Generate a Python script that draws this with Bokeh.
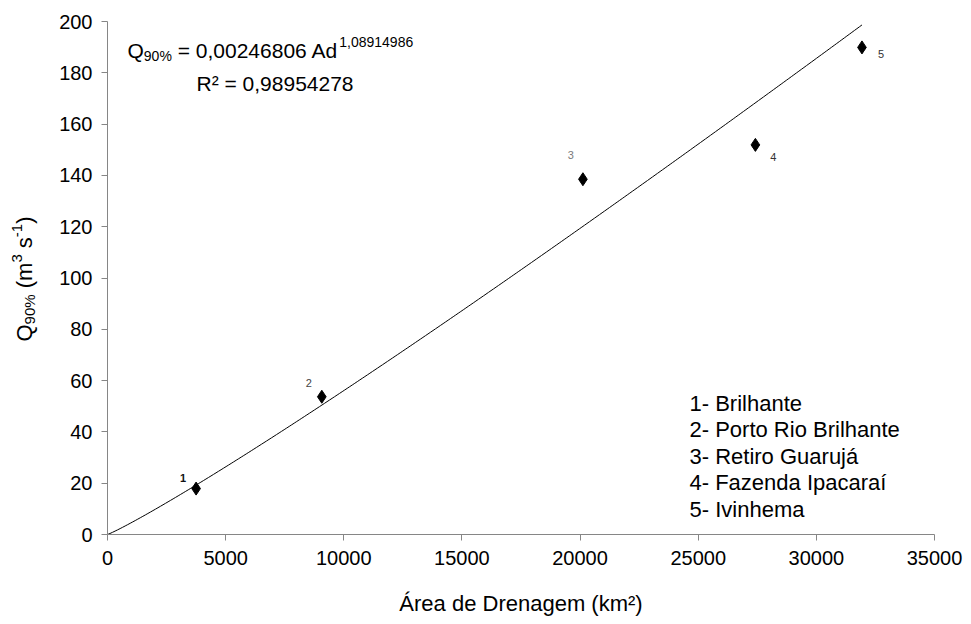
import numpy as np
from math import pi
from bokeh.plotting import figure
from bokeh.layouts import row
from bokeh.models import Label, Range1d, FixedTicker
from bokeh.embed import file_html
from bokeh.resources import INLINE
from bokeh.core.properties import value

# ---------------- data ----------------
station_ids = ["1", "2", "3", "4", "5"]
station_names = ["Brilhante", "Porto Rio Brilhante", "Retiro Guarujá",
                 "Fazenda Ipacaraí", "Ivinhema"]
area_km2 = [3750, 9070, 20120, 27420, 31930]
q90 = [17.9, 53.7, 138.5, 151.9, 189.9]

fit_a = 0.00246806
fit_b = 1.08914986
fit_r2 = 0.98954278

x_ticks = [0, 5000, 10000, 15000, 20000, 25000, 30000, 35000]
y_ticks = [0, 20, 40, 60, 80, 100, 120, 140, 160, 180, 200]

# ---------------- layout ----------------
W, H = 971, 624
YW = 50                      # width of the y-title strip
FL, FR, FT, FB_ = 107, 37, 21, 90
FBOT = H - FB_               # canvas y of frame bottom (shared by both figures)
FONT = "Liberation Sans"
CORR = 0.33                  # baseline correction (fraction of font size)

p = figure(width=W - YW, height=H, output_backend="svg", toolbar_location=None,
           x_range=Range1d(0, 35000), y_range=Range1d(0, 200),
           min_border_left=FL - YW, min_border_right=FR,
           min_border_top=FT, min_border_bottom=FB_)
p.outline_line_color = None
p.xgrid.visible = False
p.ygrid.visible = False

p.xaxis.ticker = FixedTicker(ticks=x_ticks)
p.yaxis.ticker = FixedTicker(ticks=y_ticks)
for ax in (p.xaxis, p.yaxis):
    ax.axis_line_color = "#868686"
    ax.major_tick_line_color = "#868686"
    ax.minor_tick_line_color = None
    ax.major_tick_in = 0
    ax.major_tick_out = 6
    ax.major_label_text_font = FONT
    ax.major_label_text_font_size = "20px"
    ax.major_label_text_color = "black"
p.xaxis.major_label_standoff = 10
p.yaxis.major_label_standoff = 9
p.xaxis.axis_label = "Área de Drenagem (km²)"
p.xaxis.axis_label_text_font = FONT
p.xaxis.axis_label_text_font_style = "normal"
p.xaxis.axis_label_text_font_size = "22px"
p.xaxis.axis_label_text_color = "black"
p.xaxis.axis_label_standoff = 23

# trend line from the fitted equation
ad = np.linspace(0, max(area_km2), 300)
p.line(ad, fit_a * ad ** fit_b, line_color="black", line_width=1)

# points
p.scatter(area_km2, q90, marker="diamond", size=13, color="black")

# point labels
lab_dx = [-13, -13, -12, 18, 19]
lab_dy = [-11, -14, -24, 12, 7]
lab_col = ["#111111", "#444444", "#7a7a7a", "#333333", "#333333"]
lab_style = ["bold", "normal", "normal", "normal", "normal"]
for i in range(len(station_ids)):
    p.text([area_km2[i]], [q90[i]], text=[station_ids[i]],
           x_offset=lab_dx[i], y_offset=lab_dy[i],
           text_align="center", text_baseline="middle",
           text_font=value(FONT), text_font_size="11px",
           text_font_style=lab_style[i], text_color=lab_col[i])


def lab(fig, text, sx, sy, size, align="left", angle=0.0):
    if angle:
        sx -= CORR * size
    else:
        sy -= CORR * size
    fig.add_layout(Label(x=sx - (FL if fig is p else 0), y=FBOT - sy,
                         x_units="screen", y_units="screen",
                         text=text, text_font=FONT, text_font_size=f"{size}px",
                         text_color="black", text_align=align,
                         text_baseline="alphabetic", angle=angle))


tw = {",": 0.278, " ": 0.278, "=": 0.584, "%": 0.889, "Q": 0.778, "A": 0.667,
      "d": 0.556, "(": 0.333, ")": 0.333, "m": 0.833, "s": 0.5, "-": 0.333}


def width(s, size):
    return sum(tw.get(c, 0.556) for c in s) * size


# equation
fs, ss = 21, 14
a_txt = f"{fit_a:.8f}".replace(".", ",")
b_txt = f"{fit_b:.8f}".replace(".", ",")
r_txt = f"{fit_r2:.8f}".replace(".", ",")
x0, base = 127, 57
lab(p, "Q", x0, base, fs); x0 += width("Q", fs)
lab(p, "90%", x0, base + 3, ss); x0 += width("90%", ss) + width(" ", fs)
mid = f"= {a_txt} Ad"
lab(p, mid, x0, base, fs); x0 += width(mid, fs) + 1
lab(p, b_txt, x0, base - 11, ss)
lab(p, f"R² = {r_txt}", 196, 90, fs)

# legend text block
for i, (sid, name) in enumerate(zip(station_ids, station_names)):
    lab(p, f"{sid}- {name}", 689, 410 + 26.5 * i, 22)

# y axis title strip (rotated pieces, reading bottom to top)
yfig = figure(width=YW, height=H, output_backend="svg", toolbar_location=None,
              x_range=Range1d(0, 1), y_range=Range1d(0, 1),
              x_axis_type=None, y_axis_type=None, min_border=0)
yfig.outline_line_color = None
yfig.xgrid.visible = False
yfig.ygrid.visible = False
yf, ys = 22, 15
bx, y0 = 31, 341
pieces = [("Q", yf, 0, 0), ("90%", ys, 3, 0), ("(m", yf, 0, 1), ("3", ys, -10, 0),
          ("s", yf, 0, 1), ("-1", ys, -10, 0), (")", yf, 0, 0)]
for txt, sz, shift, lead in pieces:
    y0 -= lead * width(" ", yf)
    lab(yfig, txt, bx + shift, y0, sz, angle=pi / 2)
    y0 -= width(txt, sz)

layout = row(yfig, p, spacing=0)
open("out.html", "w").write(file_html(layout, INLINE))
